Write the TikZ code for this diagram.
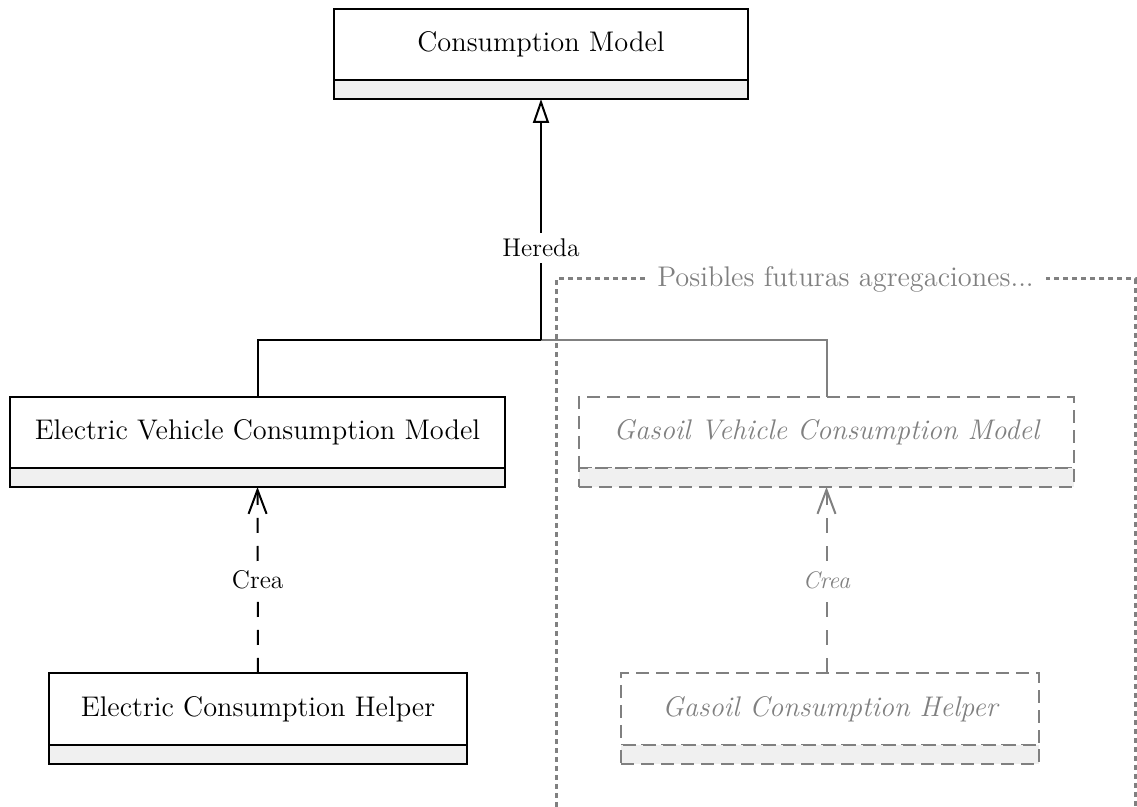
\documentclass[tikz,border=0pt]{standalone}
\usetikzlibrary{arrows.meta}
\definecolor{compfill}{HTML}{F0F0F0}
\definecolor{ghost}{HTML}{808080}
\begin{document}
\begin{tikzpicture}[x=0.5pt,y=-0.5pt,
  font=\fontsize{14.2}{17}\selectfont,
  classname/.style={draw, line width=1pt, fill=white, minimum height=35.5pt,
    inner sep=0pt, outer sep=0pt, anchor=north},
  classcomp/.style={draw, line width=1pt, fill=compfill, minimum height=9.5pt,
    inner sep=0pt, outer sep=0pt, anchor=north},
  future/.style={draw=ghost, dash pattern=on 6.5pt off 3.5pt,
    text=ghost, font=\fontsize{14.2}{17}\selectfont\itshape},
  link/.style={line width=1pt},
  linklabel/.style={fill=white, inner sep=3pt, font=\fontsize{12.8}{15}\selectfont},
  creates/.style={line width=1pt, dash pattern=on 7.5pt off 6.5pt,
    -{Straight Barb[length=12pt, width=9pt, line width=1pt]}},
  frame/.style={draw=ghost, line width=1.5pt, dash pattern=on 2.5pt off 2pt}
]
\useasboundingbox (0,0) rectangle (1137,807);

% frame around the optional future classes
\draw[frame] (556,807) |- (1135,279) -- (1135,807);
\node[fill=white, text=ghost, inner xsep=6pt, inner ysep=2pt] (framelabel) at (845.5,279)
  {Posibles futuras agregaciones...};

% base class
\node[classname, minimum width=207pt] (cm) at (541,9) {Consumption Model};
\node[classcomp, minimum width=207pt] (cmc) at (cm.south) {};

% electric branch
\node[classname, minimum width=247.5pt] (evcm) at (257.5,397) {Electric Vehicle Consumption Model};
\node[classcomp, minimum width=247.5pt] (evcmc) at (evcm.south) {};
\node[classname, minimum width=209pt, minimum height=36pt] (ech) at (258,673) {Electric Consumption Helper};
\node[classcomp, minimum width=209pt] (echc) at (ech.south) {};

% gasoil branch (proposed)
\node[classname, future, minimum width=247.5pt] (gvcm) at (826.5,397) {Gasoil Vehicle Consumption Model};
\node[classcomp, future, minimum width=247.5pt] (gvcmc) at (gvcm.south) {};
\node[classname, future, minimum width=209pt, minimum height=36pt] (gch) at (830,673) {Gasoil Consumption Helper};
\node[classcomp, future, minimum width=209pt] (gchc) at (gch.south) {};

% inheritance
\coordinate (hub) at (541,340);
\draw[link, draw=ghost] (gvcm.north) |- (hub);
\draw[link] (evcm.north) |- (hub);
\draw[link, -{Triangle[open, length=12pt, width=8pt, line width=1pt, fill=white]}]
  (hub) -- node[linklabel, pos=0.382] (inh) {Hereda} (cmc.south);

% creation dependencies
\draw[creates] (ech.north) -- node[linklabel] (ecrea) {Crea} (evcmc.south);
\draw[creates, draw=ghost] (gvcmc.south |- gch.north) --
  node[linklabel, text=ghost, font=\fontsize{12}{14}\selectfont\itshape] (gcrea) {Crea} (gvcmc.south);
\end{tikzpicture}
\end{document}
